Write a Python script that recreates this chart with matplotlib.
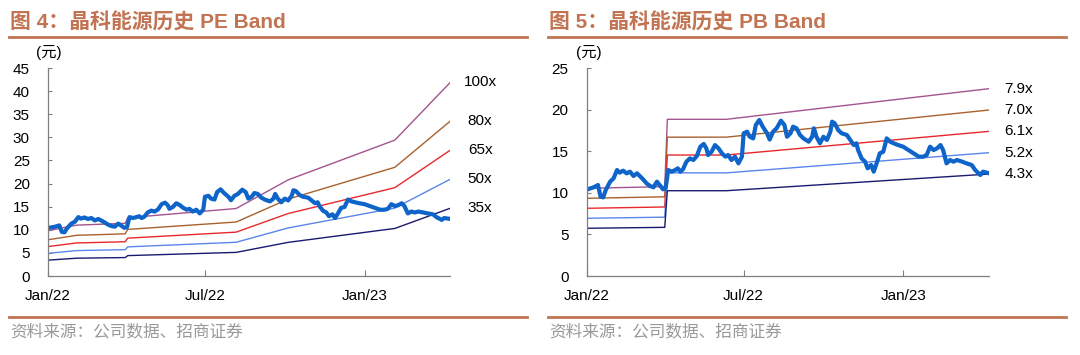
import pandas as pd
import matplotlib
matplotlib.use("Agg")
import matplotlib.pyplot as plt
import matplotlib.dates as mdates
from matplotlib.lines import Line2D

plt.rcParams['font.family'] = ['Liberation Sans', 'Noto Sans CJK SC']

# day offsets from 2022-01-01
start = pd.Timestamp('2022-01-01')
x_end_day = 463.6

price_day = [1, 8, 13, 16, 19, 22, 27, 31, 35, 38, 42, 46, 50, 54, 58, 62, 65, 69, 73, 77,
             81, 85, 88, 91, 94, 98, 102, 105, 108, 111, 115, 119, 123, 127, 131, 135, 138, 140,
             144, 148, 152, 156, 160, 163, 167, 171, 175, 179, 181, 185, 188, 192, 195, 199,
             203, 208, 211, 215, 219, 224, 228, 231, 235, 238, 242, 246, 250, 256, 260, 262,
             265, 269, 273, 277, 281, 283, 286, 290, 294, 300, 304, 308, 311, 313, 317, 321,
             324, 328, 331, 335, 338, 342, 346, 350, 354, 359, 365, 371, 377, 383, 388, 392,
             396, 400, 404, 408, 411, 415, 419, 423, 427, 433, 438, 444, 448, 454, 457, 464]
price_val = [10.42, 10.66, 10.94, 9.53, 9.45, 10.34, 11.34, 11.74, 12.74, 12.42, 12.66, 12.34,
             12.54, 12.02, 12.34, 11.94, 11.62, 11.14, 10.82, 10.66, 11.34, 10.82, 10.42, 10.54,
             12.74, 12.54, 12.74, 12.94, 12.54, 12.82, 13.74, 14.14, 13.94, 14.42, 15.54, 15.87,
             15.34, 14.54, 14.94, 15.74, 15.34, 14.74, 14.34, 14.54, 13.94, 14.34, 13.54, 14.34,
             17.15, 17.35, 16.74, 16.54, 18.15, 18.75, 17.95, 17.15, 16.40, 17.35, 17.75, 18.67,
             18.15, 16.74, 17.15, 17.95, 17.75, 16.95, 16.54, 16.14, 16.74, 17.75, 16.74, 15.95,
             16.74, 16.35, 17.35, 18.55, 18.35, 17.55, 17.15, 16.95, 16.35, 15.74, 15.95, 15.14,
             14.14, 13.74, 12.94, 13.34, 12.54, 13.74, 14.74, 14.94, 16.54, 16.14, 15.95, 15.74,
             15.54, 15.14, 14.74, 14.34, 14.34, 14.54, 15.54, 15.14, 15.34, 15.74, 15.14, 13.54,
             13.94, 13.74, 13.94, 13.74, 13.54, 13.34, 12.74, 12.14, 12.54, 12.34]

# EPS path behind the PE bands
eps_day = [0, 33, 89, 92, 217, 277, 400, 464]
eps_val = [0.098, 0.110, 0.114, 0.126, 0.146, 0.208, 0.294, 0.419]
pe_multiples = [100, 80, 65, 50, 35]
pe_labels = ['100x', '80x', '65x', '50x', '35x']

# BPS path behind the PB bands
bps_day = [0, 90, 93, 161, 464]
bps_val = [1.334, 1.36, 2.384, 2.384, 2.85]
pb_multiples = [7.9, 7.0, 6.1, 5.2, 4.3]
pb_labels = ['7.9x', '7.0x', '6.1x', '5.2x', '4.3x']

band_colors = ['#A4548E', '#A8622E', '#E8282C', '#5A86EA', '#1A1A70']
price_color = '#0E64C8'
accent = '#C27452'
titles = ['图 4：晶科能源历史 PE Band', '图 5：晶科能源历史 PB Band']
source = '资料来源：公司数据、招商证券'


def to_dates(days):
    return start + pd.to_timedelta(days, unit='D')


fig = plt.figure(figsize=(10.8, 3.55), dpi=100)


def panel(left_px, base_day, base_val, mults, labels, ymax, offset_px):
    ax = fig.add_axes([left_px / 1080, 79 / 355, 402 / 1080, 208 / 355])
    for m, c, lab in zip(mults, band_colors, labels):
        vals = [m * v for v in base_val]
        ax.plot(to_dates(base_day), vals, color=c, lw=1.0)
        ax.annotate(lab, xy=(1.075, vals[-1]), xycoords=('axes fraction', 'data'),
                    ha='center', va='center', fontsize=11, annotation_clip=False)
    ax.plot(to_dates(price_day), price_val, color=price_color, lw=3.0, solid_joinstyle='round')
    ax.set_xlim(start, start + pd.Timedelta(days=x_end_day))
    ax.set_ylim(0, ymax)
    ax.set_yticks(range(0, ymax + 1, 5))
    ax.set_xticks(pd.to_datetime(['2022-01-01', '2022-07-01', '2023-01-01']))
    ax.xaxis.set_major_formatter(mdates.DateFormatter('%b/%y'))
    for s in ['top', 'right']:
        ax.spines[s].set_visible(False)
    for s in ['left', 'bottom']:
        ax.spines[s].set_color('#7f7f7f')
        ax.spines[s].set_linewidth(0.9)
    ax.tick_params(axis='y', direction='in', length=3, pad=13, labelsize=11, color='#7f7f7f')
    ax.tick_params(axis='x', direction='in', length=4, pad=9, labelsize=11, color='#7f7f7f')
    fig.text((offset_px + 49) / 1080, 1 - 52 / 355, '(元)', ha='center', va='center', fontsize=11)
    return ax


panel(48, eps_day, eps_val, pe_multiples, pe_labels, 45, 0)
panel(586.7, bps_day, bps_val, pb_multiples, pb_labels, 25, 540)

for i, off in enumerate([0, 539]):
    fig.text((10 + off) / 1080, 1 - 22 / 355, titles[i], fontsize=15, fontweight='bold',
             color=accent, va='center', ha='left')
    fig.add_artist(Line2D([(9 + off) / 1080, (527 + off) / 1080], [1 - 37 / 355] * 2,
                          color=accent, lw=2, transform=fig.transFigure))
    fig.add_artist(Line2D([(9 + off) / 1080, (527 + off) / 1080], [1 - 317 / 355] * 2,
                          color=accent, lw=2, transform=fig.transFigure))
    fig.text((10 + off) / 1080, 1 - 331 / 355, source, fontsize=12, color='#999999',
             va='center', ha='left')

fig.savefig('out.png', dpi=100)
